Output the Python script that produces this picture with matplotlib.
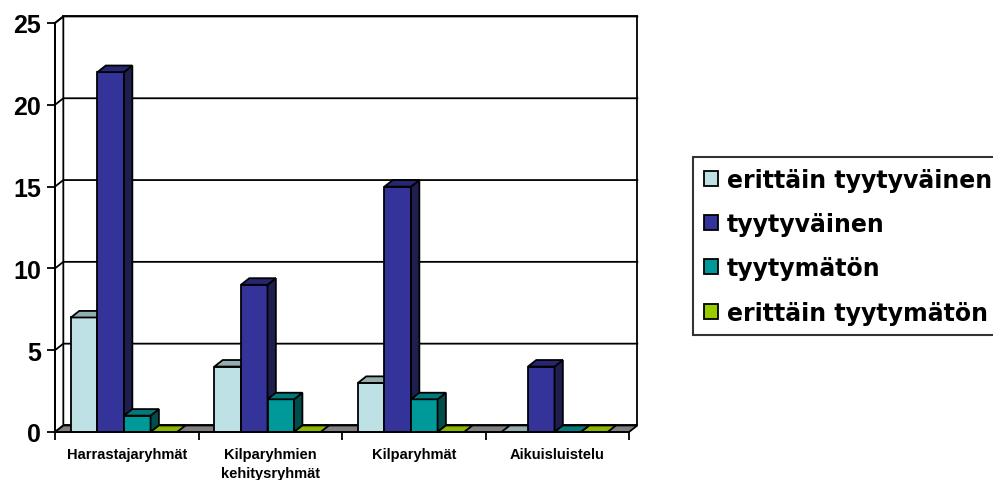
import numpy as np
import matplotlib.pyplot as plt
from matplotlib.patches import Polygon, Patch

# Data
categories = ['Harrastajaryhmät', 'Kilparyhmien\nkehitysryhmät', 'Kilparyhmät', 'Aikuisluistelu']
series = ['erittäin tyytyväinen', 'tyytyväinen', 'tyytymätön', 'erittäin tyytymätön']
erittain_tyytyvainen = [7, 4, 3, 0]
tyytyvainen = [22, 9, 15, 4]
tyytymaton = [1, 2, 2, 0]
erittain_tyytymaton = [0, 0, 0, 0]
values = [erittain_tyytyvainen, tyytyvainen, tyytymaton, erittain_tyytymaton]

# front, top, side colours per series
front = ['#BDE1E4', '#333399', '#009999', '#99CC00']
top = ['#93AEB0', '#262673', '#007A7A', '#8AB800']
side = ['#7F9A9C', '#1F1F4F', '#004D4D', '#4D6600']

fig = plt.figure(figsize=(9.93, 4.81), dpi=100)
ax = fig.add_axes([55 / 993, 48 / 481, 574 / 993, 409 / 481])
ax.set_xlim(-0.5, 3.5)
ax.set_ylim(0, 25)

dx, dy = 0.058, 0.4  # depth offset in data units
x0, x1 = -0.5, 3.5
lw = 1.3

# back wall, side wall, floor
ax.add_patch(Polygon([(x0 + dx, dy), (x1 + dx, dy), (x1 + dx, 25 + dy), (x0 + dx, 25 + dy)],
                     closed=True, fc='white', ec='black', lw=lw, clip_on=False, zorder=0))
ax.add_patch(Polygon([(x0, 0), (x0 + dx, dy), (x0 + dx, 25 + dy), (x0, 25)],
                     closed=True, fc='white', ec='black', lw=lw, clip_on=False, zorder=0))
for v in range(5, 26, 5):
    ax.plot([x0, x0 + dx, x1 + dx], [v, v + dy, v + dy], color='black', lw=lw,
            clip_on=False, zorder=0.5)
ax.add_patch(Polygon([(x0, 0), (x1, 0), (x1 + dx, dy), (x0 + dx, dy)],
                     closed=True, fc='#808080', ec='black', lw=lw, clip_on=False, zorder=1))

# bars
w = 0.185
start = -0.389
z = 2
for i in range(len(categories)):
    for k in range(len(series)):
        v = values[k][i]
        left = i + start + k * w
        right = left + w
        if v > 0:
            ax.add_patch(Polygon([(left, 0), (right, 0), (right, v), (left, v)], closed=True,
                                 fc=front[k], ec='black', lw=lw, zorder=z, clip_on=False))
            ax.add_patch(Polygon([(right, 0), (right + dx, dy), (right + dx, v + dy), (right, v)],
                                 closed=True, fc=side[k], ec='black', lw=lw, zorder=z,
                                 clip_on=False))
        ax.add_patch(Polygon([(left, v), (right, v), (right + dx, v + dy), (left + dx, v + dy)],
                             closed=True, fc=top[k], ec='black', lw=lw, zorder=z, clip_on=False))
        z += 0.01

# axes styling
for s in ['top', 'right']:
    ax.spines[s].set_visible(False)
ax.spines['left'].set_linewidth(lw)
ax.spines['bottom'].set_linewidth(lw)
ax.spines['bottom'].set_zorder(5)
ax.set_facecolor('none')

ax.set_yticks(range(0, 26, 5))
ax.tick_params(axis='y', direction='out', length=6, width=lw, pad=4)
for t in ax.get_yticklabels():
    t.set_fontfamily('Liberation Sans')
    t.set_fontweight('bold')
    t.set_fontsize(18)

ax.set_xticks(np.arange(-0.5, 3.6, 1.0))
ax.set_xticklabels([])
ax.tick_params(axis='x', which='major', direction='out', length=6, width=lw)
ax.set_xticks(np.arange(4), minor=True)
ax.set_xticklabels(categories, minor=True, fontfamily='Liberation Sans',
                   fontweight='bold', fontsize=10.5, linespacing=1.4)
ax.tick_params(axis='x', which='minor', length=0, pad=11)

handles = [Patch(fc=front[k], ec='black', lw=1.3) for k in range(len(series))]
leg = fig.legend(handles, series, loc='upper left', bbox_to_anchor=(693 / 993, 1 - 158 / 481),
                 frameon=True, fancybox=False, edgecolor='black', borderaxespad=0,
                 handlelength=0.6, handleheight=0.6, handletextpad=0.4, labelspacing=0.86,
                 borderpad=0.45, prop={'family': 'DejaVu Sans', 'weight': 'bold', 'size': 17})
leg.get_frame().set_linewidth(1.5)

fig.savefig('out.png', dpi=100)
